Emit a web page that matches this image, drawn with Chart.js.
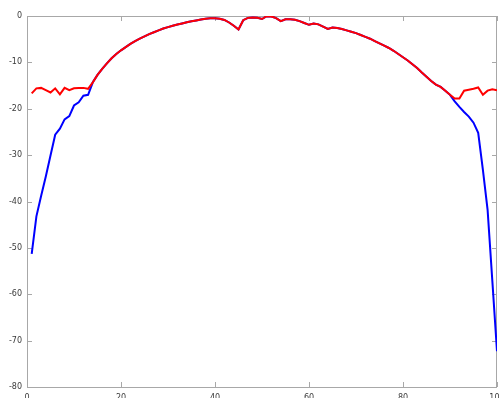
<!DOCTYPE html>
<html>
<head>
<meta charset="utf-8">
<script src="https://cdn.jsdelivr.net/npm/chart.js@4/dist/chart.umd.min.js"></script>
<style>
  html, body { margin: 0; padding: 0; background: #ffffff; overflow: hidden; }
  #wrap { position: relative; width: 520px; height: 412px; }
</style>
</head>
<body>
<div id="wrap"><canvas id="c"></canvas></div>
<script>
// Sample positions along the aperture
const xs = [1,2,3,4,5,6,7,8,9,10,11,12,13,14,15,16,17,18,19,20,
  21,22,23,24,25,26,27,28,29,30,31,32,33,34,35,36,37,38,39,40,
  41,42,43,44,45,46,47,48,49,50,51,52,53,54,55,56,57,58,59,60,
  61,62,63,64,65,66,67,68,69,70,71,72,73,74,75,76,77,78,79,80,
  81,82,83,84,85,86,87,88,89,90,91,92,93,94,95,96,97,98,99,100];

// Blue trace (dB)
const blueVals = [-51.3,-43.2,-38.8,-34.6,-30.1,-25.6,-24.3,-22.3,-21.6,-19.3,
  -18.6,-17.2,-17.0,-14.3,-12.7,-11.4,-10.2,-9.1,-8.2,-7.4,
  -6.7,-6.0,-5.4,-4.9,-4.4,-3.9,-3.5,-3.1,-2.7,-2.4,
  -2.1,-1.85,-1.6,-1.35,-1.15,-0.95,-0.75,-0.6,-0.5,-0.5,
  -0.6,-0.85,-1.4,-2.1,-2.9,-0.9,-0.4,-0.3,-0.4,-0.65,
  -0.05,-0.1,-0.45,-1.1,-0.7,-0.7,-0.8,-1.1,-1.5,-1.9,
  -1.6,-1.8,-2.3,-2.8,-2.5,-2.6,-2.8,-3.1,-3.4,-3.7,
  -4.1,-4.5,-4.9,-5.4,-5.9,-6.4,-6.9,-7.5,-8.2,-8.9,
  -9.6,-10.4,-11.2,-12.2,-13.1,-14.0,-14.8,-15.3,-16.1,-17.0,
  -18.4,-19.6,-20.7,-21.7,-23.0,-25.2,-33.2,-41.8,-57.0,-72.3];

// Red trace (dB)
const redVals = [-16.7,-15.6,-15.5,-16.0,-16.5,-15.6,-16.9,-15.5,-16.0,-15.6,
  -15.5,-15.5,-15.7,-14.3,-12.7,-11.4,-10.2,-9.1,-8.2,-7.4,
  -6.7,-6.0,-5.4,-4.9,-4.4,-3.9,-3.5,-3.1,-2.7,-2.4,
  -2.1,-1.85,-1.6,-1.35,-1.15,-0.95,-0.75,-0.6,-0.5,-0.5,
  -0.6,-0.85,-1.4,-2.1,-2.9,-0.9,-0.4,-0.3,-0.4,-0.65,
  -0.05,-0.1,-0.45,-1.1,-0.7,-0.7,-0.8,-1.1,-1.5,-1.9,
  -1.6,-1.8,-2.3,-2.8,-2.5,-2.6,-2.8,-3.1,-3.4,-3.7,
  -4.1,-4.5,-4.9,-5.4,-5.9,-6.4,-6.9,-7.5,-8.2,-8.9,
  -9.6,-10.4,-11.2,-12.2,-13.1,-14.0,-14.8,-15.3,-16.1,-17.0,
  -17.8,-17.8,-16.1,-15.9,-15.7,-15.4,-17.0,-16.1,-15.8,-16.0];

// Axis ticks
const xTicks = [0, 20, 40, 60, 80, 100];
const yTicks = [0, -10, -20, -30, -40, -50, -60, -70, -80];

const pts = (vals) => xs.map((x, i) => ({ x: x, y: vals[i] }));

const AXIS_COLOR = '#a8a8a8';
const LABEL_COLOR = '#3a3a3a';
const FONT = { family: 'DejaVu Sans', size: 8 };

// Box around the plot area with inward tick marks on all four sides
const boxTicks = {
  id: 'boxTicks',
  beforeDatasetsDraw(chart) {
    const { ctx, chartArea: a, scales } = chart;
    const len = 5;
    ctx.save();
    ctx.strokeStyle = AXIS_COLOR;
    ctx.lineWidth = 1;
    ctx.beginPath();
    ctx.rect(Math.round(a.left) + 0.5, Math.round(a.top) + 0.5,
             Math.round(a.right - a.left) - 1, Math.round(a.bottom - a.top));
    xTicks.forEach(v => {
      const px = Math.round(scales.x.getPixelForValue(v)) + 0.5;
      ctx.moveTo(px, a.bottom); ctx.lineTo(px, a.bottom - len);
      ctx.moveTo(px, a.top); ctx.lineTo(px, a.top + len);
    });
    yTicks.forEach(v => {
      const py = Math.round(scales.y.getPixelForValue(v)) + 0.5;
      ctx.moveTo(a.left, py); ctx.lineTo(a.left + len, py);
      ctx.moveTo(a.right, py); ctx.lineTo(a.right - len, py);
    });
    ctx.stroke();
    ctx.restore();
  }
};

new Chart(document.getElementById('c'), {
  type: 'line',
  data: {
    datasets: [
      { data: pts(redVals), borderColor: '#ff0000', borderWidth: 2, pointRadius: 0, tension: 0, order: 0 },
      { data: pts(blueVals), borderColor: '#0000ff', borderWidth: 2, pointRadius: 0, tension: 0, order: 1 }
    ]
  },
  options: {
    responsive: true,
    maintainAspectRatio: false,
    animation: false,
    events: [],
    layout: { padding: { top: 16, right: 23, left: 0, bottom: 0 } },
    plugins: { legend: { display: false }, tooltip: { enabled: false } },
    scales: {
      x: {
        type: 'linear', min: 0, max: 100,
        afterBuildTicks: (s) => { s.ticks = xTicks.map(v => ({ value: v })); },
        afterFit: (s) => { s.height = 25; },
        grid: { display: false, drawTicks: false },
        border: { display: false },
        ticks: { color: LABEL_COLOR, font: FONT, padding: 6, maxRotation: 0, autoSkip: false }
      },
      y: {
        type: 'linear', min: -80, max: 0,
        afterBuildTicks: (s) => { s.ticks = yTicks.map(v => ({ value: v })); },
        afterFit: (s) => { s.width = 27; },
        grid: { display: false, drawTicks: false },
        border: { display: false },
        ticks: { color: LABEL_COLOR, font: FONT, padding: 5, autoSkip: false }
      }
    }
  },
  plugins: [boxTicks]
});
</script>
</body>
</html>
